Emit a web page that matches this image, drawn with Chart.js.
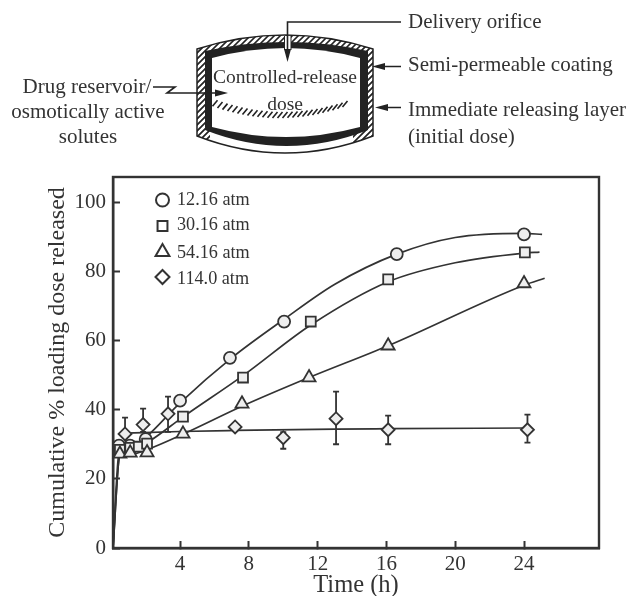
<!DOCTYPE html>
<html lang="en">
<head>
<meta charset="UTF-8">
<title>Cumulative release vs time</title>
<script src="https://cdn.jsdelivr.net/npm/chart.js"></script>
<style>
  body { margin: 0; background: #fff; }
  canvas { display: block; }
</style>
</head>
<body>
<canvas id="chart" width="632" height="596"></canvas>
<script>
const seriesNames = ['12.16 atm', '30.16 atm', '54.16 atm', '114.0 atm'];
const pointStyles = ['circle', 'rect', 'triangle', 'rectRot'];

// measured points (markers)
const circleX = [0.45, 1.09, 2, 4, 6.9, 10.05, 16.6, 24];
const circleY = [29.6, 29.6, 31.5, 42.6, 55, 65.5, 85, 90.7];
const squareX = [0.5, 1.1, 1.6, 2.08, 4.17, 7.66, 11.6, 16.1, 24.05];
const squareY = [28.4, 29, 29.3, 30.2, 38, 49.3, 65.5, 77.7, 85.5];
const triangleX = [0.5, 1.1, 2.08, 4.17, 7.6, 11.5, 16.1, 24];
const triangleY = [27.2, 27.5, 27.6, 33, 41.7, 49.3, 58.5, 76.5];
const diamondX = [0.8, 1.85, 3.3, 7.2, 10, 13.07, 16.1, 24.2];
const diamondY = [33, 35.7, 38.8, 35, 31.9, 37.4, 34.2, 34.2];
const diamondLow = [33.4, 33.6, 33.6, 35, 28.7, 30, 30, 30.5];
const diamondHigh = [37.7, 40.3, 43.8, 35, 33.5, 45.2, 38.3, 38.6];

// fitted curves
const circleCurveX = [0.1, 0.45, 1.1, 2, 4, 7, 10, 13, 16.6, 20, 24, 25.05];
const circleCurveY = [0, 27.5, 29, 32, 42, 55, 66, 76.3, 85, 89.8, 91, 90.7];
const squareCurveX = [0.1, 0.5, 1.1, 2.1, 4.2, 7.7, 11.6, 16.1, 20, 24, 24.9];
const squareCurveY = [0, 27, 28, 30.5, 38, 50, 64.5, 77, 82.5, 85.3, 85.6];
const triangleCurveX = [0.1, 0.5, 1.1, 2.1, 4.2, 7.6, 11.5, 16.1, 24, 25.2];
const triangleCurveY = [0, 26.5, 27, 28.5, 33, 41, 49.3, 58.5, 76, 78];
const diamondCurveX = [0.8, 4, 7.2, 13, 16.1, 24.2];
const diamondCurveY = [33.2, 33.7, 34, 34.4, 34.5, 34.7];

const xTicks = [4, 8, 12, 16, 20, 24];
const yTicks = [0, 20, 40, 60, 80, 100];

const ink = '#333';
const serif = '"Liberation Serif", serif';

function zip(xs, ys) {
  return xs.map((x, i) => ({ x: x, y: ys[i] }));
}

function curve(xs, ys) {
  return {
    data: zip(xs, ys),
    borderColor: ink,
    borderWidth: 1.7,
    pointRadius: 0,
    cubicInterpolationMode: 'monotone',
    clip: false,
    order: 10
  };
}

function markers(xs, ys, style, order, radius) {
  return {
    data: zip(xs, ys),
    showLine: false,
    pointStyle: style,
    pointRadius: radius,
    pointBackgroundColor: '#eee',
    pointBorderColor: ink,
    pointBorderWidth: 1.8,
    clip: false,
    order: order
  };
}

// frame, error bars and the legend inside the plot
const overlay = {
  id: 'overlay',
  beforeDatasetsDraw(chart) {
    const c = chart.ctx, a = chart.chartArea;
    const sx = chart.scales.x, sy = chart.scales.y;
    c.save();
    c.strokeStyle = ink;
    c.lineWidth = 2.4;
    c.strokeRect(a.left, a.top, a.right - a.left, a.bottom - a.top);
    c.lineWidth = 1.8;
    diamondX.forEach((x, i) => {
      if (diamondLow[i] === diamondHigh[i]) return;
      const px = sx.getPixelForValue(x);
      const lo = sy.getPixelForValue(diamondLow[i]);
      const hi = sy.getPixelForValue(diamondHigh[i]);
      c.beginPath();
      c.moveTo(px, lo); c.lineTo(px, hi);
      c.moveTo(px - 3, lo); c.lineTo(px + 3, lo);
      c.moveTo(px - 3, hi); c.lineTo(px + 3, hi);
      c.stroke();
    });
    c.restore();
  },
  afterDraw(chart) {
    const c = chart.ctx;
    const markerRows = [200, 226, 252, 277];
    const textRows = [200, 225, 253, 279];
    const sizes = [6.5, 7, 8, 7];
    c.save();
    c.strokeStyle = ink;
    c.lineWidth = 2;
    c.font = '18.2px ' + serif;
    c.textBaseline = 'middle';
    seriesNames.forEach((name, i) => {
      c.fillStyle = '#fff';
      Chart.helpers.drawPoint(c, { pointStyle: pointStyles[i], radius: sizes[i], rotation: 0, borderWidth: 2 }, 162.5, markerRows[i]);
      c.fillStyle = ink;
      c.fillText(name, 177, textRows[i]);
    });
    c.restore();
    drawDiagram(c);
  }
};

function drawDiagram(c) {
  function capsule(l, r, topC, topM, botC, botM) {
    c.beginPath();
    c.moveTo(l, topC);
    c.quadraticCurveTo((l + r) / 2, 2 * topM - topC, r, topC);
    c.lineTo(r, botC);
    c.quadraticCurveTo((l + r) / 2, 2 * botM - botC, l, botC);
    c.closePath();
  }
  function arrow(x, y, dx, dy) {
    const nx = -dy, ny = dx;
    c.beginPath();
    c.moveTo(x, y);
    c.lineTo(x - dx * 13 + nx * 3.5, y - dy * 13 + ny * 3.5);
    c.lineTo(x - dx * 13 - nx * 3.5, y - dy * 13 - ny * 3.5);
    c.closePath();
    c.fill();
  }
  c.save();

  // hatched outer layer
  c.save();
  capsule(197, 373, 49, 35, 136, 153);
  c.fillStyle = '#fff';
  c.fill();
  c.clip();
  c.strokeStyle = '#222';
  c.lineWidth = 1.6;
  c.beginPath();
  for (let i = 60; i < 540; i += 6) {
    c.moveTo(i, 160);
    c.lineTo(i + 130, 30);
  }
  c.stroke();

  // plain white part of the bottom layer
  c.fillStyle = '#fff';
  c.fillRect(210, 125, 143, 32);
  c.restore();

  c.strokeStyle = '#222';
  c.lineWidth = 1.5;
  capsule(197, 373, 49, 35, 136, 153);
  c.stroke();

  // black coating and the cavity
  c.fillStyle = '#222';
  capsule(205, 368, 51, 42, 130, 146);
  c.fill();
  c.fillStyle = '#fff';
  capsule(212, 360, 58, 48, 127, 137);
  c.fill();

  // orifice
  c.fillRect(284.5, 36, 6.5, 14);
  c.lineWidth = 1;
  c.beginPath();
  c.moveTo(284.5, 36); c.lineTo(284.5, 50);
  c.moveTo(291, 36); c.lineTo(291, 50);
  c.stroke();

  // hatch arc in the cavity
  c.lineWidth = 1.6;
  c.beginPath();
  for (let x = 215; x <= 348; x += 5) {
    const t = (x - 281) / 67;
    const y = 115 - 12 * t * t;
    c.moveTo(x - 2.5, y + 3);
    c.lineTo(x + 2.5, y - 3);
  }
  c.stroke();

  // leaders
  c.fillStyle = '#222';
  c.lineWidth = 1.6;
  c.beginPath();
  c.moveTo(401, 22); c.lineTo(287.5, 22); c.lineTo(287.5, 52);
  c.moveTo(401, 66.5); c.lineTo(382, 66.5);
  c.moveTo(401, 107.5); c.lineTo(386, 107.5);
  c.moveTo(153, 87); c.lineTo(175, 87); c.lineTo(167, 93); c.lineTo(216, 93);
  c.stroke();
  arrow(287.5, 62, 0, 1);
  arrow(372, 66.5, -1, 0);
  arrow(375, 107.5, -1, 0);
  arrow(228, 93, 1, 0);

  // labels
  c.fillStyle = ink;
  c.font = '21px ' + serif;
  c.textBaseline = 'middle';
  c.textAlign = 'left';
  c.fillText('Delivery orifice', 408, 22);
  c.fillText('Semi-permeable coating', 408, 65);
  c.fillText('Immediate releasing layer', 408, 110);
  c.fillText('(initial dose)', 408, 137);
  c.textAlign = 'center';
  c.fillText('Drug reservoir/', 87, 87);
  c.fillText('osmotically active', 88, 112);
  c.fillText('solutes', 88, 137);
  c.font = '19.5px ' + serif;
  c.fillText('Controlled-release', 285, 78);
  c.fillText('dose', 285, 105);
  c.restore();
}

new Chart(document.getElementById('chart'), {
  type: 'line',
  data: {
    datasets: [
      curve(circleCurveX, circleCurveY),
      curve(squareCurveX, squareCurveY),
      curve(triangleCurveX, triangleCurveY),
      curve(diamondCurveX, diamondCurveY),
      markers(triangleX, triangleY, 'triangle', 1, 7.5),
      markers(squareX, squareY, 'rect', 2, 7),
      markers(circleX, circleY, 'circle', 3, 6),
      markers(diamondX, diamondY, 'rectRot', 4, 6.5)
    ]
  },
  options: {
    responsive: false,
    animation: false,
    layout: { padding: { left: 0, top: 177, right: 33, bottom: 0 } },
    plugins: { legend: { display: false }, tooltip: { enabled: false } },
    scales: {
      x: {
        type: 'linear',
        min: 0.1,
        max: 28.36,
        afterBuildTicks(axis) { axis.ticks = xTicks.map(v => ({ value: v })); },
        afterFit(axis) { axis.height = 48; },
        grid: { drawOnChartArea: false, tickLength: -7, tickColor: ink, tickWidth: 2 },
        border: { color: ink, width: 2.4 },
        ticks: { color: ink, maxRotation: 0, padding: 11, autoSkip: false, font: { family: serif, size: 21 } },
        title: { display: true, text: 'Time (h)', color: ink, padding: { top: 0, bottom: -2 }, font: { family: serif, size: 24.5, lineHeight: 1 } }
      },
      y: {
        min: 0,
        max: 107.3,
        afterBuildTicks(axis) { axis.ticks = yTicks.map(v => ({ value: v })); },
        afterFit(axis) { axis.width = 113; },
        grid: { drawOnChartArea: false, tickLength: -7, tickColor: ink, tickWidth: 2 },
        border: { color: ink, width: 2.4 },
        ticks: { color: ink, padding: 14, autoSkip: false, font: { family: serif, size: 21 } },
        title: { display: true, text: 'Cumulative % loading dose released', color: ink, padding: { top: 46, bottom: 0 }, font: { family: serif, size: 24, lineHeight: 1 } }
      }
    }
  },
  plugins: [overlay]
});
</script>
</body>
</html>
